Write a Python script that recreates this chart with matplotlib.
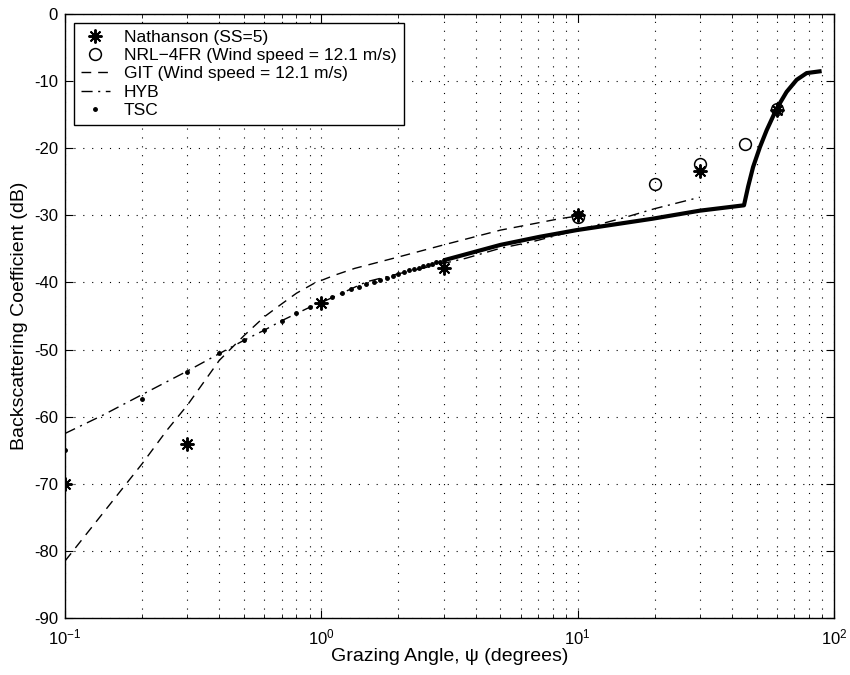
"""Sea clutter backscattering coefficient vs grazing angle (SS=5)."""

import matplotlib

matplotlib.use("Agg")
import matplotlib.pyplot as plt
from matplotlib.ticker import LogLocator, MultipleLocator

plt.rcParams["font.family"] = ["Liberation Sans", "DejaVu Sans"]
plt.rcParams["mathtext.fontset"] = "custom"
plt.rcParams["mathtext.rm"] = "Liberation Sans"
plt.rcParams["axes.unicode_minus"] = False

# Nathanson (sea state 5) table values
nath_angle = [0.1, 0.3, 1.0, 3.0, 10.0, 30.0, 60.0]
nath_db = [-70.0, -64.0, -43.0, -37.8, -30.0, -23.4, -14.3]

# NRL-4FR model points
nrl_angle = [10.0, 20.0, 30.0, 45.0, 60.0]
nrl_db = [-30.2, -25.3, -22.3, -19.4, -14.1]

# GIT model (dashed), valid 0.1-10 deg
git_angle = [0.1, 0.2, 0.25, 0.3, 0.4, 0.5, 0.6, 0.7, 0.8, 0.94, 1.13, 1.35,
             2.0, 3.0, 5.0, 8.5, 10.0]
git_db = [-81.5, -67.0, -62.0, -58.3, -51.6, -47.9, -45.1, -43.2, -41.6, -40.1,
          -38.9, -37.9, -36.2, -34.4, -32.2, -30.5, -30.1]

# HYB model (dash-dot), valid 0.1-30 deg
hyb_angle = [0.1, 0.14, 0.2, 0.3, 0.4, 0.5, 0.6, 0.7, 0.9, 1.0, 1.5, 2.0,
             3.66, 5.0, 6.7, 10.0, 15.0, 20.0, 30.0]
hyb_db = [-62.5, -59.8, -56.7, -53.2, -50.6, -48.6, -47.1, -45.7, -43.7,
          -43.0, -39.9, -38.7, -36.4, -34.9, -33.9, -32.2, -30.4, -29.0, -27.3]

# TSC model, sparse dotted part (0.1 deg steps)
tsc_dot_angle = [0.1, 0.2, 0.3, 0.4, 0.5, 0.6, 0.7, 0.8, 0.9, 1.0,
                 1.1, 1.2, 1.3, 1.4, 1.5, 1.6, 1.7, 1.8, 1.9, 2.0,
                 2.1, 2.2, 2.3, 2.4, 2.5, 2.6, 2.7, 2.8, 2.9, 3.0]
tsc_dot_db = [-65.0, -57.4, -53.3, -50.5, -48.6, -47.1, -45.7, -44.5, -43.6, -42.9,
              -42.2, -41.5, -41.0, -40.6, -40.2, -39.9, -39.6, -39.3, -39.0, -38.7,
              -38.5, -38.2, -38.0, -37.8, -37.6, -37.4, -37.2, -37.0, -36.9, -36.7]

# TSC model, dense part (dots merge into a thick line)
tsc_line_angle = [3.0, 5.0, 7.1, 9.9, 19.6, 30.0, 44.6, 46.3, 48.4, 51.5, 54.7,
                  59.8, 65.4, 71.6, 78.3, 89.6]
tsc_line_db = [-36.7, -34.4, -33.2, -32.2, -30.5, -29.3, -28.5, -25.7, -22.8,
               -19.8, -17.3, -14.1, -11.6, -9.8, -8.8, -8.5]

fig = plt.figure(figsize=(8.5, 6.75), dpi=100)
ax = fig.add_axes([0.0765, 0.0844, 0.9045, 0.8948])

ax.plot(tsc_line_angle, tsc_line_db, color="black", lw=3.0, solid_capstyle="butt")
ax.plot(git_angle, git_db, color="black", lw=1.0, dashes=(7, 5),
        label="GIT (Wind speed = 12.1 m/s)")
ax.plot(hyb_angle, hyb_db, color="black", lw=1.0, dashes=(8, 4, 1.5, 4),
        label="HYB")
ax.plot(tsc_dot_angle, tsc_dot_db, ls="none", marker=".", ms=5, color="black",
        label="TSC")
ax.plot(nath_angle, nath_db, ls="none", marker=(8, 2, 0), ms=10, mew=1.4,
        color="black", label="Nathanson (SS=5)")
ax.plot(nrl_angle, nrl_db, ls="none", marker="o", ms=8.5, mfc="none", mec="black",
        mew=1.1, label="NRL\u22124FR (Wind speed = 12.1 m/s)")

ax.set_xscale("log")
ax.set_xlim(0.1, 100)
ax.set_ylim(-90, 0)
ax.yaxis.set_major_locator(MultipleLocator(10))
ax.xaxis.set_major_locator(LogLocator(base=10))
ax.xaxis.set_minor_locator(LogLocator(base=10, subs=range(2, 10)))

ax.grid(True, which="both", axis="x", color="black", ls=(0, (1, 7)), lw=0.8)
ax.grid(True, which="major", axis="y", color="black", ls=(0, (1, 7)), lw=0.8)
ax.tick_params(which="both", direction="in", top=True, right=True, labelsize=12)
ax.tick_params(which="major", length=6)
ax.tick_params(which="minor", length=3)
ax.tick_params(axis="x", which="major", pad=7)
ax.tick_params(axis="y", which="major", pad=5)
for spine in ax.spines.values():
    spine.set_linewidth(1.0)

ax.set_xlabel("Grazing Angle, \u03c8 (degrees)", fontsize=14, labelpad=0)
ax.set_ylabel("Backscattering Coefficient (dB)", fontsize=14, labelpad=4)

handles, labels = ax.get_legend_handles_labels()
order = ["Nathanson (SS=5)", "NRL\u22124FR (Wind speed = 12.1 m/s)",
         "GIT (Wind speed = 12.1 m/s)", "HYB", "TSC"]
hmap = dict(zip(labels, handles))
leg = ax.legend([hmap[k] for k in order], order, loc="upper left", fontsize=12.5,
                frameon=True, fancybox=False, edgecolor="black", framealpha=1,
                handlelength=1.7, handletextpad=0.8, borderpad=0.4,
                labelspacing=0.18, borderaxespad=0.5)
leg.get_frame().set_linewidth(1.0)

fig.savefig("out.png", dpi=100)
